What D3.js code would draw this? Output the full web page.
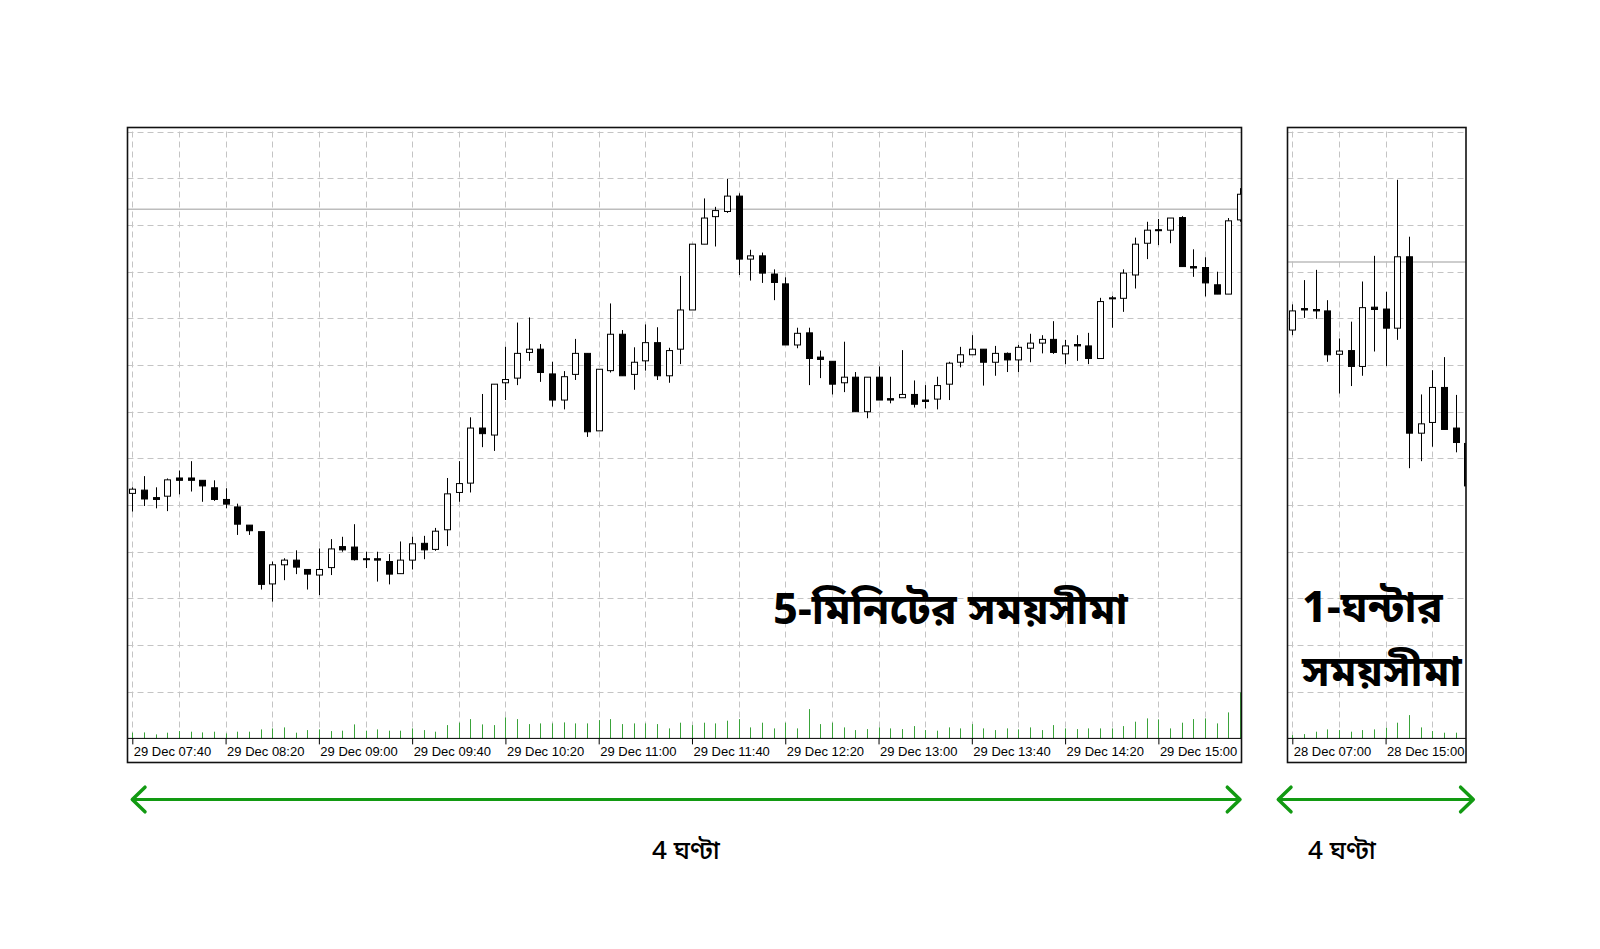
<!DOCTYPE html>
<html><head><meta charset="utf-8">
<script src="https://cdn.jsdelivr.net/npm/d3@7"></script>
<style>body{margin:0;background:#fff}</style>
</head><body><svg id="c" width="1600" height="949"></svg>
<script>
// ---- 5-minute chart (29 Dec 07:40 .. 15:35) ----
const m5Open = [52.5,53.2,51.6,51.9,55.8,55.8,55.3,53.7,51.2,49.6,
45.7,44.3,33.1,37.2,38.2,36.2,35.0,36.6,41.1,41.0,
38.5,38.5,37.9,35.3,38.2,41.8,40.5,44.7,52.7,54.7,
66.5,65.0,76.2,77.2,82.7,83.4,78.1,72.5,78.0,82.5,
65.9,78.8,86.6,78.0,80.9,84.8,77.7,83.4,91.8,105.9,
111.8,112.9,116.2,102.7,103.4,99.5,97.4,84.3,86.9,81.7,
80.8,76.2,77.4,70.0,77.4,72.8,73.0,73.7,72.5,72.7,
75.9,80.6,82.2,83.4,80.6,82.5,81.1,83.6,84.7,85.5,
82.4,84.4,84.1,81.4,94.4,94.3,99.3,106.1,109.0,108.9,
111.6,101.1,100.9,97.2,95.2,111.1];
const m5High = [53.8,56.2,53.8,55.7,57.4,59.4,55.3,55.3,53.6,50.3,
45.7,44.3,37.9,38.6,40.3,36.2,40.7,42.7,43.2,45.9,
40.0,40.0,39.5,42.2,43.2,43.4,45.1,55.8,59.4,68.8,
73.8,75.9,83.9,89.1,90.2,84.5,80.7,78.7,85.6,82.5,
79.1,93.2,87.5,83.8,88.7,88.1,83.7,99.1,105.9,115.7,
113.9,119.9,116.8,104.7,104.1,100.5,98.8,88.0,88.0,83.1,
80.8,85.0,78.5,77.4,79.7,77.5,83.2,76.7,75.7,77.5,
80.7,83.9,86.4,83.4,84.1,82.7,84.3,86.7,86.4,89.4,
85.4,86.4,86.9,94.4,94.8,100.5,107.3,110.7,111.3,111.5,
111.9,104.8,103.1,100.0,111.5,117.9];
const m5Low = [48.6,49.8,49.3,48.7,52.3,52.9,50.7,50.9,49.3,43.6,
43.6,31.9,29.3,33.9,35.2,31.9,30.7,35.0,40.0,38.1,
36.5,33.6,33.0,35.3,36.2,38.4,40.2,41.2,50.7,52.7,
62.4,61.6,72.5,75.7,80.9,76.4,71.1,70.5,76.8,64.6,
65.9,78.4,77.7,74.7,78.8,76.8,76.2,80.2,91.8,105.9,
105.4,112.6,99.3,98.1,97.6,93.9,84.3,83.6,75.7,77.2,
73.7,74.2,70.0,68.6,72.5,71.8,73.0,70.9,70.7,70.5,
72.5,79.5,82.2,75.6,77.7,78.5,78.5,80.6,82.5,82.4,
80.2,80.9,80.2,81.4,88.0,91.4,96.4,102.7,105.7,106.1,
101.1,98.9,94.7,95.2,95.2,110.7];
const m5Close = [53.4,51.3,51.2,55.4,55.3,55.3,54.1,51.2,50.2,45.9,
44.5,33.0,37.2,38.2,36.7,35.2,36.2,40.6,40.4,38.3,
38.3,38.2,35.2,38.2,41.7,40.4,44.4,52.4,54.6,66.5,
65.3,75.9,76.9,82.5,83.4,78.4,72.5,77.5,82.5,65.7,
79.1,86.6,77.7,80.6,84.8,77.7,83.1,91.8,105.9,111.5,
113.1,116.2,102.7,103.4,99.7,97.7,84.3,86.8,81.4,81.2,
75.9,77.4,70.0,77.4,72.5,72.5,73.7,71.6,72.2,75.6,
80.4,82.2,83.4,80.6,82.5,81.1,83.8,84.7,85.5,82.7,
84.1,84.1,81.4,93.6,94.2,99.7,105.9,108.9,108.8,111.5,
101.1,100.8,97.6,95.2,110.9,116.6];
const m5Volume = [57,60,40,57,73,67,60,67,50,67,
67,90,100,110,57,83,90,73,77,140,
77,90,77,77,100,83,67,133,157,193,
140,133,210,193,143,150,150,160,150,150,
183,193,143,150,150,143,100,157,133,157,
150,177,193,110,157,100,157,100,293,143,
157,110,83,93,110,100,93,123,83,77,
110,100,143,100,83,100,90,110,83,133,
100,93,100,100,100,123,167,200,190,100,
157,193,200,150,260,460];
const m5TickIndex = [0,8,16,24,32,40,48,56,64,72,80,88];
const m5TickLabels = ["29 Dec 07:40","29 Dec 08:20","29 Dec 09:00","29 Dec 09:40","29 Dec 10:20","29 Dec 11:00",
  "29 Dec 11:40","29 Dec 12:20","29 Dec 13:00","29 Dec 13:40","29 Dec 14:20","29 Dec 15:00"];
const m5Level = 113.4;

// ---- 1-hour chart (28 Dec 07:00 .. 22:00) ----
const h1Open  = [87.5,92.1,91.9,91.6,82.3,83.1,79.7,92.4,92.0,87.9,103.2,65.4,67.7,75.2,66.5,63.2];
const h1High  = [93.0,98.2,100.4,93.9,85.7,89.3,97.9,103.4,95.7,119.7,107.5,73.7,78.9,81.7,73.6,63.2];
const h1Low   = [86.4,90.1,89.9,80.7,73.9,75.5,77.7,82.9,79.8,85.4,57.9,59.4,62.5,66.2,61.3,54.1];
const h1Close = [91.6,91.8,91.6,82.2,83.0,79.7,92.3,91.9,87.9,103.2,65.4,67.4,75.2,66.2,63.4,54.1];
const h1Volume = [33,43,67,90,83,67,83,90,107,157,233,110,73,57,57,50];
const h1TickIndex = [0,8];
const h1TickLabels = ["28 Dec 07:00","28 Dec 15:00"];
const h1Level = 102.1;

// ---- annotation texts ----
const titleM5 = "5-মিনিটের সময়সীমা";
const titleH1 = ["1-ঘন্টার","সময়সীমা"];
const spanLabel = "4 ঘণ্টা";

const svg = d3.select("#c");
svg.append("rect").attr("width",1600).attr("height",949).attr("fill","#fff");

const TOP = 127.5, BOTTOM = 762.5, AXIS_Y = 738.4;
const STEP = 11.66;
const yPrice = d3.scaleLinear().domain([0,130]).range([AXIS_Y, 131.7]);
const yVol = d3.scaleLinear().domain([0,100]).range([0,10]);
const gridValues = d3.range(10,131,10);
const BENGALI = "'Noto Sans Bengali','Noto Sans','Lohit Bengali','FreeSans',sans-serif";

function drawPanel(p, id) {
  const n = p.open.length;
  const x = d3.scaleLinear().domain([0, n]).range([p.x0, p.x0 + n*STEP]);
  const g = svg.append("g");
  const clipId = "clip"+id;
  svg.append("clipPath").attr("id",clipId).append("rect")
    .attr("x",p.left).attr("y",TOP).attr("width",p.right-p.left).attr("height",BOTTOM-TOP);
  const inner = g.append("g").attr("clip-path",`url(#${clipId})`);

  // grid
  inner.selectAll(".hg").data(gridValues).join("line")
    .attr("x1",p.left).attr("x2",p.right)
    .attr("y1",d=>Math.round(yPrice(d))+0.5).attr("y2",d=>Math.round(yPrice(d))+0.5)
    .attr("stroke","#c4c4c4").attr("stroke-width",1).attr("stroke-dasharray","6,4");
  const vIdx = d3.range(0, n+4, 4).filter(i => x(i) < p.right);
  inner.selectAll(".vg").data(vIdx).join("line")
    .attr("x1",d=>Math.round(x(d))+0.5).attr("x2",d=>Math.round(x(d))+0.5)
    .attr("y1",TOP+4).attr("y2",AXIS_Y)
    .attr("stroke","#c4c4c4").attr("stroke-width",1).attr("stroke-dasharray","6,4");

  // reference level
  inner.append("line").attr("x1",p.left).attr("x2",p.right)
    .attr("y1",yPrice(p.level)).attr("y2",yPrice(p.level))
    .attr("stroke","#bdbdbd").attr("stroke-width",1.5);

  // volumes
  inner.selectAll(".vol").data(p.volume).join("line")
    .attr("x1",(d,i)=>Math.round(x(i))+0.5).attr("x2",(d,i)=>Math.round(x(i))+0.5)
    .attr("y1",AXIS_Y).attr("y2",d=>AXIS_Y - yVol(d))
    .attr("stroke","#3aa33a").attr("stroke-width",1);

  // candles
  const idx = d3.range(n);
  inner.selectAll(".wick").data(idx).join("line")
    .attr("x1",i=>Math.round(x(i))+0.5).attr("x2",i=>Math.round(x(i))+0.5)
    .attr("y1",i=>yPrice(p.high[i])).attr("y2",i=>yPrice(p.low[i]))
    .attr("stroke","#000").attr("stroke-width",1);
  inner.selectAll(".body").data(idx).join("rect")
    .attr("x",i=>Math.round(x(i))-2.5)
    .attr("width",6)
    .attr("y",i=>Math.min(yPrice(p.open[i]),yPrice(p.close[i])))
    .attr("height",i=>Math.max(1,Math.abs(yPrice(p.open[i])-yPrice(p.close[i]))))
    .attr("fill",i=>p.close[i] >= p.open[i] ? "#fff" : "#000")
    .attr("stroke","#000").attr("stroke-width",1);

  // axis line
  g.append("line").attr("x1",p.left).attr("x2",p.right)
    .attr("y1",AXIS_Y).attr("y2",AXIS_Y).attr("stroke","#000").attr("stroke-width",1);
  const axis = d3.axisBottom(x).tickValues(p.tickIndex)
    .tickFormat((d,i)=>p.tickLabels[i]).tickSize(6).tickSizeOuter(0);
  const ag = g.append("g").attr("transform",`translate(0,${AXIS_Y})`).call(axis);
  ag.select(".domain").remove();
  ag.selectAll(".tick line").attr("stroke","#000");
  ag.selectAll(".tick text").attr("text-anchor","start").attr("x",1).attr("y",17.5).attr("dy",0)
    .attr("fill","#000").style("font-family","'Liberation Sans',Arial,sans-serif").style("font-size","13px");

  // frame
  g.append("rect").attr("x",p.left).attr("y",TOP).attr("width",p.right-p.left).attr("height",BOTTOM-TOP)
    .attr("fill","none").attr("stroke","#111").attr("stroke-width",1.6);
}

drawPanel({left:127.5,right:1241.5,x0:132.3,open:m5Open,high:m5High,low:m5Low,close:m5Close,
  volume:m5Volume,tickIndex:m5TickIndex,tickLabels:m5TickLabels,level:m5Level},"m5");
drawPanel({left:1287.5,right:1466,x0:1292.3,open:h1Open,high:h1High,low:h1Low,close:h1Close,
  volume:h1Volume,tickIndex:h1TickIndex,tickLabels:h1TickLabels,level:h1Level},"h1");

// titles
svg.append("text").attr("x",773).attr("y",624).text(titleM5)
  .style("font-family",BENGALI).style("font-weight","bold").style("font-size","43px").attr("fill","#000");
svg.selectAll(".h1t").data(titleH1).join("text")
  .attr("x",1302).attr("y",(d,i)=>622+i*64).text(d=>d)
  .style("font-family",BENGALI).style("font-weight","bold").style("font-size","43px").attr("fill","#000");

// span arrows
const GREEN = "#129a12";
const arrows = [{x1:132.3,x2:1240,label:686},{x1:1278.3,x2:1473.3,label:1342}];
const AY = 799.5;
arrows.forEach(a=>{
  svg.append("line").attr("x1",a.x1+1).attr("x2",a.x2-1).attr("y1",AY).attr("y2",AY)
    .attr("stroke",GREEN).attr("stroke-width",3);
  svg.append("polyline").attr("points",`${a.x1+12.7},${AY-12.3} ${a.x1},${AY} ${a.x1+12.7},${AY+12.3}`)
    .attr("fill","none").attr("stroke",GREEN).attr("stroke-width",3.5).attr("stroke-linecap","round").attr("stroke-linejoin","round");
  svg.append("polyline").attr("points",`${a.x2-12.7},${AY-12.3} ${a.x2},${AY} ${a.x2-12.7},${AY+12.3}`)
    .attr("fill","none").attr("stroke",GREEN).attr("stroke-width",3.5).attr("stroke-linecap","round").attr("stroke-linejoin","round");
  svg.append("text").attr("x",a.label).attr("y",859).attr("text-anchor","middle").text(spanLabel)
    .style("font-family",BENGALI).style("font-weight","500").style("font-size","26px").attr("fill","#000");
});
</script></body></html>
